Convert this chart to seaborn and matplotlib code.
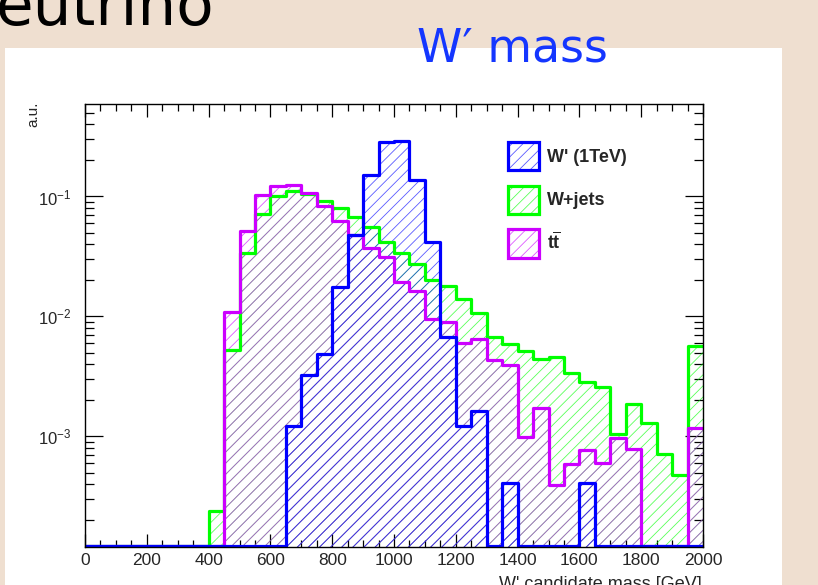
import numpy as np
import matplotlib
matplotlib.use("Agg")
import matplotlib.pyplot as plt
import seaborn as sns
from matplotlib.patches import Patch, Rectangle
from matplotlib.ticker import MultipleLocator, LogLocator, NullFormatter, FixedLocator

# ---------------- data ----------------
BIN_EDGES = list(range(0, 2001, 50))  # GeV, 40 bins of 50 GeV

W_PRIME = [0, 0, 0, 0, 0, 0, 0, 0, 0, 0, 0, 0, 0,
           1.23e-3, 3.27e-3, 4.9e-3, 0.0176, 0.048, 0.150, 0.287, 0.292, 0.137,
           0.0414, 0.0068, 1.23e-3, 1.64e-3, 0, 4.1e-4, 0, 0, 0, 0, 4.1e-4,
           0, 0, 0, 0, 0, 0, 0]

W_JETS = [0, 0, 0, 0, 0, 0, 0, 0,
          2.37e-4, 5.27e-3, 0.0335, 0.072, 0.100, 0.112, 0.104, 0.092, 0.080,
          0.067, 0.0556, 0.0414, 0.0335, 0.0275, 0.0202, 0.018, 0.014, 0.0107,
          6.7e-3, 5.9e-3, 5.2e-3, 4.4e-3, 4.6e-3, 3.4e-3, 2.82e-3, 2.58e-3,
          1.05e-3, 1.87e-3, 1.3e-3, 7.1e-4, 4.75e-4, 5.65e-3]

TTBAR = [0, 0, 0, 0, 0, 0, 0, 0, 0,
         0.0108, 0.052, 0.102, 0.122, 0.124, 0.106, 0.083, 0.063, 0.048, 0.037,
         0.031, 0.0192, 0.0162, 0.0095, 0.0090, 0.0060, 0.0065, 0.00435, 0.0039,
         9.8e-4, 1.74e-3, 3.93e-4, 5.85e-4, 7.7e-4, 5.95e-4, 9.7e-4, 7.8e-4,
         0, 0, 0, 1.17e-3]

SERIES_LABELS = ["W' (1TeV)", "W+jets", r"$\mathbf{t}\overline{\mathbf{t}}$"]
X_TICKS = [0, 200, 400, 600, 800, 1000, 1200, 1400, 1600, 1800, 2000]
Y_TICKS = [1e-3, 1e-2, 1e-1]
X_TITLE = "W' candidate mass [GeV]"
Y_TITLE = "a.u."

# ---------------- style ----------------
sns.set_theme(style="ticks")
plt.rcParams["font.family"] = ["Liberation Sans", "DejaVu Sans"]
plt.rcParams["mathtext.fontset"] = "custom"
plt.rcParams["mathtext.rm"] = "Liberation Sans"
plt.rcParams["mathtext.it"] = "Liberation Sans:italic"
plt.rcParams["mathtext.bf"] = "Liberation Sans:bold"
plt.rcParams["hatch.linewidth"] = 0.6

W, H = 818, 585
BLUE, GREEN, MAGENTA = "#0000ff", "#00ff00", "#cc00ff"
YMIN, YMAX = 1.19e-4, 0.59
HATCH = "///"
HATCH_ALPHA = 0.65

fig = plt.figure(figsize=(W / 100, H / 100), dpi=100, facecolor="#efdfd0")
fig.patches.append(Rectangle((5 / W, 0), (782 - 5) / W, 1 - 48 / H,
                             transform=fig.transFigure, facecolor="white",
                             edgecolor="none", zorder=-5))

fig.text(-4 / W, 1 - 25 / H, "eutrino", fontsize=44, color="black",
         family=["DejaVu Sans"], ha="left", va="baseline")
fig.text(417 / W, 1 - 62 / H, "W\u2032 mass", fontsize=33, color="#1436ff",
         family=["DejaVu Sans"], ha="left", va="baseline")

ax = fig.add_axes([85 / W, 1 - 547.3 / H, (703 - 85) / W, (547.3 - 104) / H])
ax.set_facecolor("white")
ax.set_yscale("log")

edges = np.array(BIN_EDGES, dtype=float)
centers = (edges[:-1] + edges[1:]) / 2
floor = YMIN * 1.03

def light(c, a):
    rgb = matplotlib.colors.to_rgb(c)
    return (rgb[0], rgb[1], rgb[2], a)

for vals, col in [(W_JETS, GREEN), (TTBAR, MAGENTA), (W_PRIME, BLUE)]:
    v = np.array(vals, dtype=float)
    pv = np.where(v > 0, v, floor)
    sns.histplot(x=centers, weights=pv, bins=BIN_EDGES, element="step", fill=True,
                 color=light(col, HATCH_ALPHA), facecolor="none",
                 edgecolor=light(col, HATCH_ALPHA), linewidth=0,
                 hatch=HATCH, ax=ax)
    sns.histplot(x=centers, weights=pv, bins=BIN_EDGES, element="step", fill=False,
                 color=col, linewidth=2.3, ax=ax)

ax.set_xlim(0, 2000)
ax.set_ylim(YMIN, YMAX)
ax.set_xlabel("")
ax.set_ylabel("")

ax.xaxis.set_major_locator(FixedLocator(X_TICKS))
ax.xaxis.set_minor_locator(MultipleLocator(50))
ax.yaxis.set_major_locator(FixedLocator(Y_TICKS))
ax.yaxis.set_minor_locator(LogLocator(base=10, subs=np.arange(2, 10)))
ax.yaxis.set_minor_formatter(NullFormatter())
ax.set_xticklabels([str(t) for t in X_TICKS])
ax.set_yticklabels([r"$\mathdefault{10^{-3}}$", r"$\mathdefault{10^{-2}}$",
                    r"$\mathdefault{10^{-1}}$"])

ax.tick_params(which="both", direction="in", top=True, right=True,
               color="black", width=0.9)
ax.tick_params(axis="x", which="major", length=9.5, labelsize=12.5, pad=4)
ax.tick_params(axis="x", which="minor", length=4.7)
ax.tick_params(axis="y", which="major", length=13, labelsize=12, pad=10)
ax.tick_params(axis="y", which="minor", length=6.5)
for s in ax.spines.values():
    s.set_color("black")
    s.set_linewidth(1.0)

fig.text(702 / W, 1 - 576 / H, X_TITLE, fontsize=13, ha="right", va="top")
fig.text(33 / W, 1 - 102 / H, Y_TITLE, fontsize=11, rotation=90,
         ha="center", va="top")

handles = []
for col in [BLUE, GREEN, MAGENTA]:
    handles.append((Patch(facecolor="white", edgecolor=light(col, HATCH_ALPHA),
                          hatch=HATCH, linewidth=0),
                    Patch(facecolor="none", edgecolor=col, linewidth=2.3)))
leg = ax.legend(handles, SERIES_LABELS, loc="upper left",
                bbox_to_anchor=((508.3 - 85) / 618, (547.3 - 141.7) / 443.3),
                frameon=False, borderpad=0, borderaxespad=0,
                handlelength=1.72, handleheight=2.05, handletextpad=0.45,
                labelspacing=0.85, prop={"weight": "bold", "size": 13})

fig.savefig("out.png", dpi=100, facecolor=fig.get_facecolor())
